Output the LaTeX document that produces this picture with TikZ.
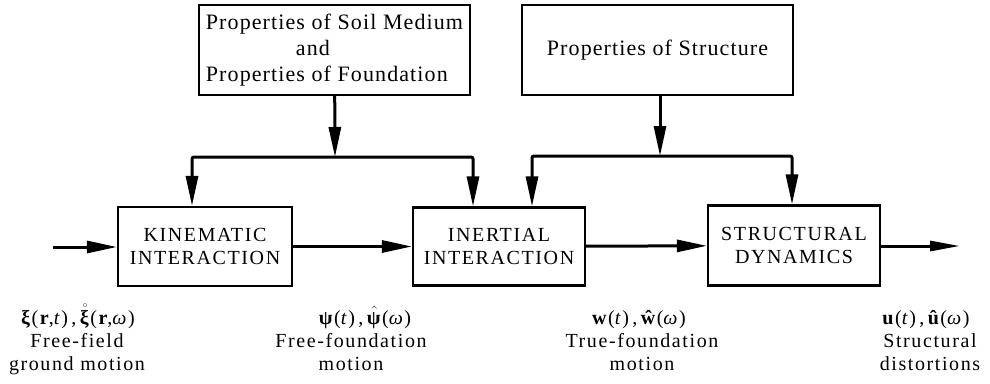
\documentclass[tikz,border=0pt]{standalone}
\usepackage{amsmath}
\usepackage{fontspec}
\setmainfont{Liberation Serif}
\newfontfamily\boxfont[LetterSpace=5]{Liberation Serif}
\newfontfamily\capfont[LetterSpace=8]{Liberation Serif}
\newfontfamily\lblfont[LetterSpace=8]{Liberation Serif}
\usetikzlibrary{arrows.meta}

\begin{document}
\begin{tikzpicture}[x=1pt, y=-1pt,
    block/.style={draw, line width=2.2pt, inner sep=0pt},
    flow/.style={line width=3pt, -{Triangle[length=30pt,width=12pt]}},
    fork/.style={line width=3pt, rounded corners=2pt,
      {Triangle[length=30pt,width=12pt]}-{Triangle[length=30pt,width=12pt]}},
    mlbl/.style={anchor=base, inner sep=0pt, font=\fontsize{20}{23}\lblfont},
    lbl/.style={anchor=north, inner sep=0pt, align=center, font=\fontsize{20}{23}\lblfont}]
  \useasboundingbox (0,0) rectangle (990,383);

  % Properties
  \node[block, minimum width=271, minimum height=90, align=left,
    font=\fontsize{22}{26}\boxfont] (soil) at (334.5,50)
    {Properties of Soil Medium\\\hspace*{90pt}and\\Properties of Foundation};
  \node[block, minimum width=271, minimum height=90,
    font=\fontsize{22}{26}\boxfont] (struct) at (657.5,50) {Properties of Structure};

  % Blocks
  \node[block, minimum width=174, minimum height=79, align=center,
    font=\fontsize{20}{23}\capfont] (kin) at (205,246.5) {KINEMATIC\\INTERACTION};
  \node[block, minimum width=172, minimum height=78, align=center,
    font=\fontsize{20}{23}\capfont] (ine) at (499,246.5) {INERTIAL\\INTERACTION};
  \node[block, minimum width=172, minimum height=80, align=center,
    font=\fontsize{20}{23}\capfont] (dyn) at (794,245.5) {STRUCTURAL\\DYNAMICS};

  % Forks
  \coordinate (sm) at (335,157);
  \coordinate (sl) at (192,157);
  \coordinate (sr) at (473,157);
  \coordinate (tm) at (660,156);
  \coordinate (tl) at (532,156);
  \coordinate (tr) at (792,156);
  \draw[flow] (soil) -- (sm);
  \draw[fork] (sl |- kin.north) -- (sl) -- (sr) -- (sr |- ine.north);
  \draw[flow] (struct.south -| tm) -- (tm);
  \draw[fork] (tl |- ine.north) -- (tl) -- (tr) -- (tr |- dyn.north);

  % Main line
  \coordinate (in) at (53,247);
  \coordinate (out) at (960,246);
  \draw[flow] (in) -- (kin.west |- in);
  \draw[flow] (kin) -- (ine);
  \draw[flow] (ine) -- (dyn);
  \draw[line width=3pt, -{Triangle[length=30pt,width=10pt]}] (dyn.east |- out) -- (out);

  % Labels
  \node[mlbl] (xi) at (78,324)
    {\textbf{ξ}(\textbf{r},\textit{t})\,,\,$\mathring{\text{\textbf{ξ}}}$(\textbf{r},\textit{ω})};
  \node[lbl] (xitxt) at (77,333) {Free-field\\ground motion};
  \node[mlbl] (psi) at (365,324)
    {\textbf{ψ}(\textit{t})\,,\,$\hat{\text{\textbf{ψ}}}$(\textit{ω})};
  \node[lbl] (psitxt) at (351,333) {Free-foundation\\motion};
  \node[mlbl] (w) at (639,324)
    {\textbf{w}(\textit{t})\,,\,\textbf{ŵ}(\textit{ω})};
  \node[lbl] (wtxt) at (642,333) {True-foundation\\motion};
  \node[mlbl] (u) at (926,324)
    {\textbf{u}(\textit{t})\,,\,\textbf{û}(\textit{ω})};
  \node[lbl] (utxt) at (930,333) {Structural\\distortions};
\end{tikzpicture}
\end{document}
